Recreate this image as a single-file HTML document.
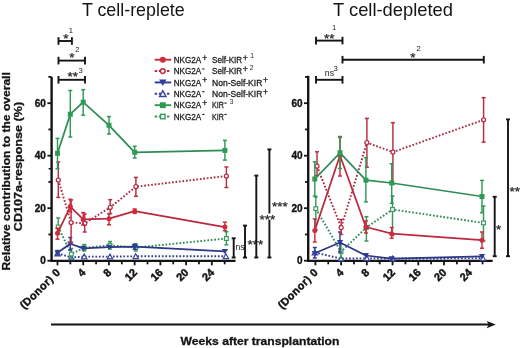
<!DOCTYPE html>
<html><head><meta charset="utf-8"><style>
html,body{margin:0;padding:0;background:#fff;}
body{width:520px;height:348px;overflow:hidden;}
svg{display:block;font-family:"Liberation Sans",Arial,sans-serif;}
</style></head><body>
<svg width="520" height="348" viewBox="0 0 520 348">
<rect width="520" height="348" fill="#fff"/>
<text x="81.9" y="16.2" font-size="18.5" font-weight="normal" text-anchor="start" fill="#141414" textLength="102.8" lengthAdjust="spacingAndGlyphs" >T cell-replete</text>
<text x="333" y="16.2" font-size="18.5" font-weight="normal" text-anchor="start" fill="#141414" textLength="120" lengthAdjust="spacingAndGlyphs" >T cell-depleted</text>
<text transform="translate(9.7 270.6) rotate(-90)" font-size="11.2" font-weight="bold" fill="#141414" stroke="#141414" stroke-width="0.3" textLength="198.4" lengthAdjust="spacingAndGlyphs">Relative contribution to the overall</text>
<text transform="translate(21.9 231.2) rotate(-90)" font-size="11.2" font-weight="bold" fill="#141414" stroke="#141414" stroke-width="0.3" textLength="129.3" lengthAdjust="spacingAndGlyphs">CD107a-response (%)</text>
<line x1="51.6" y1="76.8" x2="51.6" y2="261.7" stroke="#141414" stroke-width="2.4" />
<line x1="47.4" y1="260.7" x2="51.6" y2="260.7" stroke="#141414" stroke-width="1.8" />
<line x1="47.4" y1="208.2" x2="51.6" y2="208.2" stroke="#141414" stroke-width="1.8" />
<line x1="47.4" y1="155.7" x2="51.6" y2="155.7" stroke="#141414" stroke-width="1.8" />
<line x1="47.4" y1="103.2" x2="51.6" y2="103.2" stroke="#141414" stroke-width="1.8" />
<line x1="48.4" y1="234.45" x2="51.6" y2="234.45" stroke="#141414" stroke-width="1.8" />
<line x1="48.4" y1="181.95" x2="51.6" y2="181.95" stroke="#141414" stroke-width="1.8" />
<line x1="48.4" y1="129.45" x2="51.6" y2="129.45" stroke="#141414" stroke-width="1.8" />
<line x1="48.4" y1="76.95" x2="51.6" y2="76.95" stroke="#141414" stroke-width="1.8" />
<line x1="48.6" y1="168.7" x2="51.6" y2="168.7" stroke="#141414" stroke-width="1.5" />
<text x="45.9" y="264.3" font-size="10" font-weight="bold" text-anchor="end" fill="#141414" stroke="#141414" stroke-width="0.35">0</text>
<text x="45.9" y="211.8" font-size="10" font-weight="bold" text-anchor="end" fill="#141414" stroke="#141414" stroke-width="0.35">20</text>
<text x="45.9" y="159.3" font-size="10" font-weight="bold" text-anchor="end" fill="#141414" stroke="#141414" stroke-width="0.35">40</text>
<text x="45.9" y="106.8" font-size="10" font-weight="bold" text-anchor="end" fill="#141414" stroke="#141414" stroke-width="0.35">60</text>
<line x1="50.4" y1="260.9" x2="235.5" y2="260.9" stroke="#141414" stroke-width="2.2" />
<line x1="57.5" y1="260.7" x2="57.5" y2="265.3" stroke="#141414" stroke-width="1.8" />
<line x1="70.36" y1="260.7" x2="70.36" y2="264.3" stroke="#141414" stroke-width="1.8" />
<line x1="83.22" y1="260.7" x2="83.22" y2="265.3" stroke="#141414" stroke-width="1.8" />
<line x1="96.08" y1="260.7" x2="96.08" y2="264.3" stroke="#141414" stroke-width="1.8" />
<line x1="108.94" y1="260.7" x2="108.94" y2="265.3" stroke="#141414" stroke-width="1.8" />
<line x1="121.8" y1="260.7" x2="121.8" y2="264.3" stroke="#141414" stroke-width="1.8" />
<line x1="134.66" y1="260.7" x2="134.66" y2="265.3" stroke="#141414" stroke-width="1.8" />
<line x1="147.52" y1="260.7" x2="147.52" y2="264.3" stroke="#141414" stroke-width="1.8" />
<line x1="160.38" y1="260.7" x2="160.38" y2="265.3" stroke="#141414" stroke-width="1.8" />
<line x1="173.24" y1="260.7" x2="173.24" y2="264.3" stroke="#141414" stroke-width="1.8" />
<line x1="186.1" y1="260.7" x2="186.1" y2="265.3" stroke="#141414" stroke-width="1.8" />
<line x1="198.96" y1="260.7" x2="198.96" y2="264.3" stroke="#141414" stroke-width="1.8" />
<line x1="211.82" y1="260.7" x2="211.82" y2="265.3" stroke="#141414" stroke-width="1.8" />
<line x1="224.68" y1="260.7" x2="224.68" y2="264.3" stroke="#141414" stroke-width="1.8" />
<text x="60.7" y="273.2" font-size="10.9" font-weight="bold" text-anchor="end" fill="#141414" stroke="#141414" stroke-width="0.45" textLength="51.5" lengthAdjust="spacing" transform="rotate(-45 60.7 273.2)">(Donor) 0</text>
<text x="86.42" y="273.2" font-size="10.9" font-weight="bold" text-anchor="end" fill="#141414" stroke="#141414" stroke-width="0.45" transform="rotate(-45 86.42 273.2)">4</text>
<text x="112.14" y="273.2" font-size="10.9" font-weight="bold" text-anchor="end" fill="#141414" stroke="#141414" stroke-width="0.45" transform="rotate(-45 112.14 273.2)">8</text>
<text x="137.86" y="273.2" font-size="10.9" font-weight="bold" text-anchor="end" fill="#141414" stroke="#141414" stroke-width="0.45" transform="rotate(-45 137.86 273.2)">12</text>
<text x="163.58" y="273.2" font-size="10.9" font-weight="bold" text-anchor="end" fill="#141414" stroke="#141414" stroke-width="0.45" transform="rotate(-45 163.58 273.2)">16</text>
<text x="189.3" y="273.2" font-size="10.9" font-weight="bold" text-anchor="end" fill="#141414" stroke="#141414" stroke-width="0.45" transform="rotate(-45 189.3 273.2)">20</text>
<text x="215.02" y="273.2" font-size="10.9" font-weight="bold" text-anchor="end" fill="#141414" stroke="#141414" stroke-width="0.45" transform="rotate(-45 215.02 273.2)">24</text>
<line x1="308.2" y1="75.8" x2="308.2" y2="261.7" stroke="#141414" stroke-width="2.4" />
<line x1="304" y1="260.7" x2="308.2" y2="260.7" stroke="#141414" stroke-width="1.8" />
<line x1="304" y1="208.2" x2="308.2" y2="208.2" stroke="#141414" stroke-width="1.8" />
<line x1="304" y1="155.7" x2="308.2" y2="155.7" stroke="#141414" stroke-width="1.8" />
<line x1="304" y1="103.2" x2="308.2" y2="103.2" stroke="#141414" stroke-width="1.8" />
<line x1="305" y1="234.45" x2="308.2" y2="234.45" stroke="#141414" stroke-width="1.8" />
<line x1="305" y1="181.95" x2="308.2" y2="181.95" stroke="#141414" stroke-width="1.8" />
<line x1="305" y1="129.45" x2="308.2" y2="129.45" stroke="#141414" stroke-width="1.8" />
<line x1="305" y1="76.95" x2="308.2" y2="76.95" stroke="#141414" stroke-width="1.8" />
<text x="302.6" y="264.3" font-size="10" font-weight="bold" text-anchor="end" fill="#141414" stroke="#141414" stroke-width="0.35">0</text>
<text x="302.6" y="211.8" font-size="10" font-weight="bold" text-anchor="end" fill="#141414" stroke="#141414" stroke-width="0.35">20</text>
<text x="302.6" y="159.3" font-size="10" font-weight="bold" text-anchor="end" fill="#141414" stroke="#141414" stroke-width="0.35">40</text>
<text x="302.6" y="106.8" font-size="10" font-weight="bold" text-anchor="end" fill="#141414" stroke="#141414" stroke-width="0.35">60</text>
<line x1="307" y1="260.9" x2="492.7" y2="260.9" stroke="#141414" stroke-width="2.2" />
<line x1="315.4" y1="260.7" x2="315.4" y2="265.3" stroke="#141414" stroke-width="1.8" />
<line x1="328.26" y1="260.7" x2="328.26" y2="264.3" stroke="#141414" stroke-width="1.8" />
<line x1="341.12" y1="260.7" x2="341.12" y2="265.3" stroke="#141414" stroke-width="1.8" />
<line x1="353.98" y1="260.7" x2="353.98" y2="264.3" stroke="#141414" stroke-width="1.8" />
<line x1="366.84" y1="260.7" x2="366.84" y2="265.3" stroke="#141414" stroke-width="1.8" />
<line x1="379.7" y1="260.7" x2="379.7" y2="264.3" stroke="#141414" stroke-width="1.8" />
<line x1="392.56" y1="260.7" x2="392.56" y2="265.3" stroke="#141414" stroke-width="1.8" />
<line x1="405.42" y1="260.7" x2="405.42" y2="264.3" stroke="#141414" stroke-width="1.8" />
<line x1="418.28" y1="260.7" x2="418.28" y2="265.3" stroke="#141414" stroke-width="1.8" />
<line x1="431.14" y1="260.7" x2="431.14" y2="264.3" stroke="#141414" stroke-width="1.8" />
<line x1="444" y1="260.7" x2="444" y2="265.3" stroke="#141414" stroke-width="1.8" />
<line x1="456.86" y1="260.7" x2="456.86" y2="264.3" stroke="#141414" stroke-width="1.8" />
<line x1="469.72" y1="260.7" x2="469.72" y2="265.3" stroke="#141414" stroke-width="1.8" />
<line x1="482.58" y1="260.7" x2="482.58" y2="264.3" stroke="#141414" stroke-width="1.8" />
<text x="318.6" y="273.2" font-size="10.9" font-weight="bold" text-anchor="end" fill="#141414" stroke="#141414" stroke-width="0.45" textLength="51.5" lengthAdjust="spacing" transform="rotate(-45 318.6 273.2)">(Donor) 0</text>
<text x="344.32" y="273.2" font-size="10.9" font-weight="bold" text-anchor="end" fill="#141414" stroke="#141414" stroke-width="0.45" transform="rotate(-45 344.32 273.2)">4</text>
<text x="370.04" y="273.2" font-size="10.9" font-weight="bold" text-anchor="end" fill="#141414" stroke="#141414" stroke-width="0.45" transform="rotate(-45 370.04 273.2)">8</text>
<text x="395.76" y="273.2" font-size="10.9" font-weight="bold" text-anchor="end" fill="#141414" stroke="#141414" stroke-width="0.45" transform="rotate(-45 395.76 273.2)">12</text>
<text x="421.48" y="273.2" font-size="10.9" font-weight="bold" text-anchor="end" fill="#141414" stroke="#141414" stroke-width="0.45" transform="rotate(-45 421.48 273.2)">16</text>
<text x="447.2" y="273.2" font-size="10.9" font-weight="bold" text-anchor="end" fill="#141414" stroke="#141414" stroke-width="0.45" transform="rotate(-45 447.2 273.2)">20</text>
<text x="472.92" y="273.2" font-size="10.9" font-weight="bold" text-anchor="end" fill="#141414" stroke="#141414" stroke-width="0.45" transform="rotate(-45 472.92 273.2)">24</text>
<path d="M57.5 253.5 L71.3 257.5 L84.2 256.6 L110 256.6 L135.7 256.3 L225.9 256.3" fill="none" stroke="#313d90" stroke-width="1.9" stroke-dasharray="1.7 1.8"/>
<path d="M54.8 255.8H60.2L57.5 250.9Z" fill="#fff" stroke="#36429c" stroke-width="1.15" stroke-linejoin="miter"/>
<path d="M68.6 259.8H74L71.3 254.9Z" fill="#fff" stroke="#36429c" stroke-width="1.15" stroke-linejoin="miter"/>
<path d="M81.5 258.9H86.9L84.2 254Z" fill="#fff" stroke="#36429c" stroke-width="1.15" stroke-linejoin="miter"/>
<path d="M107.3 258.9H112.7L110 254Z" fill="#fff" stroke="#36429c" stroke-width="1.15" stroke-linejoin="miter"/>
<path d="M133 258.6H138.4L135.7 253.7Z" fill="#fff" stroke="#36429c" stroke-width="1.15" stroke-linejoin="miter"/>
<path d="M223.2 258.6H228.6L225.9 253.7Z" fill="#fff" stroke="#36429c" stroke-width="1.15" stroke-linejoin="miter"/>
<line x1="58.2" y1="218" x2="58.2" y2="234" stroke="#37985a" stroke-width="1.45" />
<line x1="56.2" y1="218" x2="60.2" y2="218" stroke="#37985a" stroke-width="1.5" />
<line x1="56.2" y1="234" x2="60.2" y2="234" stroke="#37985a" stroke-width="1.5" />
<line x1="71.3" y1="248.5" x2="71.3" y2="259" stroke="#37985a" stroke-width="1.45" />
<line x1="69.3" y1="248.5" x2="73.3" y2="248.5" stroke="#37985a" stroke-width="1.5" />
<line x1="69.3" y1="259" x2="73.3" y2="259" stroke="#37985a" stroke-width="1.5" />
<line x1="84.2" y1="244.5" x2="84.2" y2="251" stroke="#37985a" stroke-width="1.45" />
<line x1="82.2" y1="244.5" x2="86.2" y2="244.5" stroke="#37985a" stroke-width="1.5" />
<line x1="82.2" y1="251" x2="86.2" y2="251" stroke="#37985a" stroke-width="1.5" />
<line x1="110" y1="241.5" x2="110" y2="249" stroke="#37985a" stroke-width="1.45" />
<line x1="108" y1="241.5" x2="112" y2="241.5" stroke="#37985a" stroke-width="1.5" />
<line x1="108" y1="249" x2="112" y2="249" stroke="#37985a" stroke-width="1.5" />
<line x1="135.7" y1="244" x2="135.7" y2="251" stroke="#37985a" stroke-width="1.45" />
<line x1="133.7" y1="244" x2="137.7" y2="244" stroke="#37985a" stroke-width="1.5" />
<line x1="133.7" y1="251" x2="137.7" y2="251" stroke="#37985a" stroke-width="1.5" />
<line x1="226.4" y1="231.7" x2="226.4" y2="244.8" stroke="#37985a" stroke-width="1.45" />
<line x1="224.4" y1="231.7" x2="228.4" y2="231.7" stroke="#37985a" stroke-width="1.5" />
<line x1="224.4" y1="244.8" x2="228.4" y2="244.8" stroke="#37985a" stroke-width="1.5" />
<path d="M58.2 227 L71.3 254 L84.2 247.8 L110 245.3 L135.7 247.6 L226.4 238.5" fill="none" stroke="#2f8a55" stroke-width="1.9" stroke-dasharray="1.7 1.8"/>
<rect x="56.3" y="225.1" width="3.8" height="3.8" fill="#fff" stroke="#37985a" stroke-width="1.15"/>
<rect x="69.4" y="252.1" width="3.8" height="3.8" fill="#fff" stroke="#37985a" stroke-width="1.15"/>
<rect x="82.3" y="245.9" width="3.8" height="3.8" fill="#fff" stroke="#37985a" stroke-width="1.15"/>
<rect x="108.1" y="243.4" width="3.8" height="3.8" fill="#fff" stroke="#37985a" stroke-width="1.15"/>
<rect x="133.8" y="245.7" width="3.8" height="3.8" fill="#fff" stroke="#37985a" stroke-width="1.15"/>
<rect x="224.5" y="236.6" width="3.8" height="3.8" fill="#fff" stroke="#37985a" stroke-width="1.15"/>
<line x1="57.5" y1="250.5" x2="57.5" y2="255" stroke="#303c96" stroke-width="1.45" />
<line x1="55.5" y1="250.5" x2="59.5" y2="250.5" stroke="#303c96" stroke-width="1.5" />
<line x1="55.5" y1="255" x2="59.5" y2="255" stroke="#303c96" stroke-width="1.5" />
<line x1="70.3" y1="237.5" x2="70.3" y2="250" stroke="#303c96" stroke-width="1.45" />
<line x1="68.3" y1="237.5" x2="72.3" y2="237.5" stroke="#303c96" stroke-width="1.5" />
<line x1="68.3" y1="250" x2="72.3" y2="250" stroke="#303c96" stroke-width="1.5" />
<line x1="134.7" y1="244.2" x2="134.7" y2="249.2" stroke="#303c96" stroke-width="1.45" />
<line x1="132.7" y1="244.2" x2="136.7" y2="244.2" stroke="#303c96" stroke-width="1.5" />
<line x1="132.7" y1="249.2" x2="136.7" y2="249.2" stroke="#303c96" stroke-width="1.5" />
<path d="M57.5 252.8 L70.3 243.8 L83.2 248.4 L109 247.1 L134.7 246.7 L224.9 251.3" fill="none" stroke="#2c3788" stroke-width="1.75" stroke-linejoin="round"/>
<path d="M54.4 250.4H60.6L57.5 255.8Z" fill="#303c96"/>
<path d="M67.2 241.4H73.4L70.3 246.8Z" fill="#303c96"/>
<path d="M80.1 246H86.3L83.2 251.4Z" fill="#303c96"/>
<path d="M105.9 244.7H112.1L109 250.1Z" fill="#303c96"/>
<path d="M131.6 244.3H137.8L134.7 249.7Z" fill="#303c96"/>
<path d="M221.8 248.9H228L224.9 254.3Z" fill="#303c96"/>
<line x1="58.3" y1="162" x2="58.3" y2="197.4" stroke="#b82c44" stroke-width="1.45" />
<line x1="56.3" y1="162" x2="60.3" y2="162" stroke="#b82c44" stroke-width="1.5" />
<line x1="56.3" y1="197.4" x2="60.3" y2="197.4" stroke="#b82c44" stroke-width="1.5" />
<line x1="71.1" y1="200" x2="71.1" y2="243" stroke="#b82c44" stroke-width="1.45" />
<line x1="69.1" y1="200" x2="73.1" y2="200" stroke="#b82c44" stroke-width="1.5" />
<line x1="69.1" y1="243" x2="73.1" y2="243" stroke="#b82c44" stroke-width="1.5" />
<line x1="84.7" y1="214" x2="84.7" y2="232" stroke="#b82c44" stroke-width="1.45" />
<line x1="82.7" y1="214" x2="86.7" y2="214" stroke="#b82c44" stroke-width="1.5" />
<line x1="82.7" y1="232" x2="86.7" y2="232" stroke="#b82c44" stroke-width="1.5" />
<line x1="110.2" y1="199.7" x2="110.2" y2="213.5" stroke="#b82c44" stroke-width="1.45" />
<line x1="108.2" y1="199.7" x2="112.2" y2="199.7" stroke="#b82c44" stroke-width="1.5" />
<line x1="108.2" y1="213.5" x2="112.2" y2="213.5" stroke="#b82c44" stroke-width="1.5" />
<line x1="135.9" y1="177.4" x2="135.9" y2="196.3" stroke="#b82c44" stroke-width="1.45" />
<line x1="133.9" y1="177.4" x2="137.9" y2="177.4" stroke="#b82c44" stroke-width="1.5" />
<line x1="133.9" y1="196.3" x2="137.9" y2="196.3" stroke="#b82c44" stroke-width="1.5" />
<line x1="226.4" y1="167" x2="226.4" y2="187.5" stroke="#b82c44" stroke-width="1.45" />
<line x1="224.4" y1="167" x2="228.4" y2="167" stroke="#b82c44" stroke-width="1.5" />
<line x1="224.4" y1="187.5" x2="228.4" y2="187.5" stroke="#b82c44" stroke-width="1.5" />
<path d="M58.3 180 L71.1 222.5 L84.7 223.4 L110.2 207.4 L135.9 186.7 L226.4 176" fill="none" stroke="#a8283f" stroke-width="1.9" stroke-dasharray="1.7 1.8"/>
<circle cx="58.3" cy="180" r="2.0" fill="#fff" stroke="#b82c44" stroke-width="1.25"/>
<circle cx="71.1" cy="222.5" r="2.0" fill="#fff" stroke="#b82c44" stroke-width="1.25"/>
<circle cx="84.7" cy="223.4" r="2.0" fill="#fff" stroke="#b82c44" stroke-width="1.25"/>
<circle cx="110.2" cy="207.4" r="2.0" fill="#fff" stroke="#b82c44" stroke-width="1.25"/>
<circle cx="135.9" cy="186.7" r="2.0" fill="#fff" stroke="#b82c44" stroke-width="1.25"/>
<circle cx="226.4" cy="176" r="2.0" fill="#fff" stroke="#b82c44" stroke-width="1.25"/>
<line x1="57.5" y1="228.2" x2="57.5" y2="239.2" stroke="#cc2c3e" stroke-width="1.45" />
<line x1="55.5" y1="228.2" x2="59.5" y2="228.2" stroke="#cc2c3e" stroke-width="1.5" />
<line x1="55.5" y1="239.2" x2="59.5" y2="239.2" stroke="#cc2c3e" stroke-width="1.5" />
<line x1="70.3" y1="199.3" x2="70.3" y2="211.8" stroke="#cc2c3e" stroke-width="1.45" />
<line x1="68.3" y1="199.3" x2="72.3" y2="199.3" stroke="#cc2c3e" stroke-width="1.5" />
<line x1="68.3" y1="211.8" x2="72.3" y2="211.8" stroke="#cc2c3e" stroke-width="1.5" />
<line x1="83.2" y1="212.6" x2="83.2" y2="225" stroke="#cc2c3e" stroke-width="1.45" />
<line x1="81.2" y1="212.6" x2="85.2" y2="212.6" stroke="#cc2c3e" stroke-width="1.5" />
<line x1="81.2" y1="225" x2="85.2" y2="225" stroke="#cc2c3e" stroke-width="1.5" />
<line x1="109" y1="214" x2="109" y2="224.8" stroke="#cc2c3e" stroke-width="1.45" />
<line x1="107" y1="214" x2="111" y2="214" stroke="#cc2c3e" stroke-width="1.5" />
<line x1="107" y1="224.8" x2="111" y2="224.8" stroke="#cc2c3e" stroke-width="1.5" />
<line x1="134.7" y1="209" x2="134.7" y2="213.4" stroke="#cc2c3e" stroke-width="1.45" />
<line x1="132.7" y1="209" x2="136.7" y2="209" stroke="#cc2c3e" stroke-width="1.5" />
<line x1="132.7" y1="213.4" x2="136.7" y2="213.4" stroke="#cc2c3e" stroke-width="1.5" />
<line x1="224.9" y1="222.2" x2="224.9" y2="230.7" stroke="#cc2c3e" stroke-width="1.45" />
<line x1="222.9" y1="222.2" x2="226.9" y2="222.2" stroke="#cc2c3e" stroke-width="1.5" />
<line x1="222.9" y1="230.7" x2="226.9" y2="230.7" stroke="#cc2c3e" stroke-width="1.5" />
<path d="M57.5 233.3 L70.3 206.6 L83.2 219.4 L109 218.7 L134.7 211.2 L224.9 227.1" fill="none" stroke="#bb2840" stroke-width="1.75" stroke-linejoin="round"/>
<circle cx="57.5" cy="233.3" r="2.5" fill="#cc2c3e"/>
<circle cx="70.3" cy="206.6" r="2.5" fill="#cc2c3e"/>
<circle cx="83.2" cy="219.4" r="2.5" fill="#cc2c3e"/>
<circle cx="109" cy="218.7" r="2.5" fill="#cc2c3e"/>
<circle cx="134.7" cy="211.2" r="2.5" fill="#cc2c3e"/>
<circle cx="224.9" cy="227.1" r="2.5" fill="#cc2c3e"/>
<line x1="57.5" y1="138.4" x2="57.5" y2="168.8" stroke="#2e9a56" stroke-width="1.45" />
<line x1="55.5" y1="138.4" x2="59.5" y2="138.4" stroke="#2e9a56" stroke-width="1.5" />
<line x1="55.5" y1="168.8" x2="59.5" y2="168.8" stroke="#2e9a56" stroke-width="1.5" />
<line x1="70.3" y1="90.5" x2="70.3" y2="137" stroke="#2e9a56" stroke-width="1.45" />
<line x1="68.3" y1="90.5" x2="72.3" y2="90.5" stroke="#2e9a56" stroke-width="1.5" />
<line x1="68.3" y1="137" x2="72.3" y2="137" stroke="#2e9a56" stroke-width="1.5" />
<line x1="83.2" y1="89.7" x2="83.2" y2="115.2" stroke="#2e9a56" stroke-width="1.45" />
<line x1="81.2" y1="89.7" x2="85.2" y2="89.7" stroke="#2e9a56" stroke-width="1.5" />
<line x1="81.2" y1="115.2" x2="85.2" y2="115.2" stroke="#2e9a56" stroke-width="1.5" />
<line x1="109" y1="116.6" x2="109" y2="134" stroke="#2e9a56" stroke-width="1.45" />
<line x1="107" y1="116.6" x2="111" y2="116.6" stroke="#2e9a56" stroke-width="1.5" />
<line x1="107" y1="134" x2="111" y2="134" stroke="#2e9a56" stroke-width="1.5" />
<line x1="134.7" y1="146.3" x2="134.7" y2="158" stroke="#2e9a56" stroke-width="1.45" />
<line x1="132.7" y1="146.3" x2="136.7" y2="146.3" stroke="#2e9a56" stroke-width="1.5" />
<line x1="132.7" y1="158" x2="136.7" y2="158" stroke="#2e9a56" stroke-width="1.5" />
<line x1="224.9" y1="140.4" x2="224.9" y2="160.1" stroke="#2e9a56" stroke-width="1.45" />
<line x1="222.9" y1="140.4" x2="226.9" y2="140.4" stroke="#2e9a56" stroke-width="1.5" />
<line x1="222.9" y1="160.1" x2="226.9" y2="160.1" stroke="#2e9a56" stroke-width="1.5" />
<path d="M57.5 153.3 L70.3 114.2 L83.2 102.2 L109 125.3 L134.7 152.3 L224.9 150.4" fill="none" stroke="#2f8c55" stroke-width="1.75" stroke-linejoin="round"/>
<rect x="55" y="150.8" width="5" height="5" fill="#2e9a56"/>
<rect x="67.8" y="111.7" width="5" height="5" fill="#2e9a56"/>
<rect x="80.7" y="99.7" width="5" height="5" fill="#2e9a56"/>
<rect x="106.5" y="122.8" width="5" height="5" fill="#2e9a56"/>
<rect x="132.2" y="149.8" width="5" height="5" fill="#2e9a56"/>
<rect x="222.4" y="147.9" width="5" height="5" fill="#2e9a56"/>
<path d="M314.8 252.5 L341 258.6 L366.9 258.3 L392.7 258.6 L483 258.3" fill="none" stroke="#313d90" stroke-width="1.9" stroke-dasharray="1.7 1.8"/>
<path d="M312.1 254.8H317.5L314.8 249.9Z" fill="#fff" stroke="#36429c" stroke-width="1.15" stroke-linejoin="miter"/>
<path d="M338.3 260.9H343.7L341 256Z" fill="#fff" stroke="#36429c" stroke-width="1.15" stroke-linejoin="miter"/>
<path d="M364.2 260.6H369.6L366.9 255.7Z" fill="#fff" stroke="#36429c" stroke-width="1.15" stroke-linejoin="miter"/>
<path d="M390 260.9H395.4L392.7 256Z" fill="#fff" stroke="#36429c" stroke-width="1.15" stroke-linejoin="miter"/>
<path d="M480.3 260.6H485.7L483 255.7Z" fill="#fff" stroke="#36429c" stroke-width="1.15" stroke-linejoin="miter"/>
<line x1="315.8" y1="197" x2="315.8" y2="229.8" stroke="#37985a" stroke-width="1.45" />
<line x1="313.8" y1="197" x2="317.8" y2="197" stroke="#37985a" stroke-width="1.5" />
<line x1="313.8" y1="229.8" x2="317.8" y2="229.8" stroke="#37985a" stroke-width="1.5" />
<line x1="341" y1="244" x2="341" y2="258" stroke="#37985a" stroke-width="1.45" />
<line x1="339" y1="244" x2="343" y2="244" stroke="#37985a" stroke-width="1.5" />
<line x1="339" y1="258" x2="343" y2="258" stroke="#37985a" stroke-width="1.5" />
<line x1="366.4" y1="216.7" x2="366.4" y2="241" stroke="#37985a" stroke-width="1.45" />
<line x1="364.4" y1="216.7" x2="368.4" y2="216.7" stroke="#37985a" stroke-width="1.5" />
<line x1="364.4" y1="241" x2="368.4" y2="241" stroke="#37985a" stroke-width="1.5" />
<line x1="392.5" y1="196" x2="392.5" y2="235.6" stroke="#37985a" stroke-width="1.45" />
<line x1="390.5" y1="196" x2="394.5" y2="196" stroke="#37985a" stroke-width="1.5" />
<line x1="390.5" y1="235.6" x2="394.5" y2="235.6" stroke="#37985a" stroke-width="1.5" />
<line x1="483.5" y1="206" x2="483.5" y2="241" stroke="#37985a" stroke-width="1.45" />
<line x1="481.5" y1="206" x2="485.5" y2="206" stroke="#37985a" stroke-width="1.5" />
<line x1="481.5" y1="241" x2="485.5" y2="241" stroke="#37985a" stroke-width="1.5" />
<path d="M315.8 208.7 L341 251.7 L366.4 227.5 L392.5 209.5 L483.5 222.9" fill="none" stroke="#2f8a55" stroke-width="1.9" stroke-dasharray="1.7 1.8"/>
<rect x="313.9" y="206.8" width="3.8" height="3.8" fill="#fff" stroke="#37985a" stroke-width="1.15"/>
<rect x="339.1" y="249.8" width="3.8" height="3.8" fill="#fff" stroke="#37985a" stroke-width="1.15"/>
<rect x="364.5" y="225.6" width="3.8" height="3.8" fill="#fff" stroke="#37985a" stroke-width="1.15"/>
<rect x="390.6" y="207.6" width="3.8" height="3.8" fill="#fff" stroke="#37985a" stroke-width="1.15"/>
<rect x="481.6" y="221" width="3.8" height="3.8" fill="#fff" stroke="#37985a" stroke-width="1.15"/>
<line x1="314.8" y1="247.5" x2="314.8" y2="258" stroke="#303c96" stroke-width="1.45" />
<line x1="312.8" y1="247.5" x2="316.8" y2="247.5" stroke="#303c96" stroke-width="1.5" />
<line x1="312.8" y1="258" x2="316.8" y2="258" stroke="#303c96" stroke-width="1.5" />
<line x1="340" y1="232" x2="340" y2="252" stroke="#303c96" stroke-width="1.45" />
<line x1="338" y1="232" x2="342" y2="232" stroke="#303c96" stroke-width="1.5" />
<line x1="338" y1="252" x2="342" y2="252" stroke="#303c96" stroke-width="1.5" />
<path d="M314.8 253.3 L340 242.5 L365.9 255.5 L391.7 258.6 L482 256.3" fill="none" stroke="#2c3788" stroke-width="1.75" stroke-linejoin="round"/>
<path d="M311.7 250.9H317.9L314.8 256.3Z" fill="#303c96"/>
<path d="M336.9 240.1H343.1L340 245.5Z" fill="#303c96"/>
<path d="M362.8 253.1H369L365.9 258.5Z" fill="#303c96"/>
<path d="M388.6 256.2H394.8L391.7 261.6Z" fill="#303c96"/>
<path d="M478.9 253.9H485.1L482 259.3Z" fill="#303c96"/>
<line x1="317" y1="151.8" x2="317" y2="175.5" stroke="#b82c44" stroke-width="1.45" />
<line x1="315" y1="151.8" x2="319" y2="151.8" stroke="#b82c44" stroke-width="1.5" />
<line x1="315" y1="175.5" x2="319" y2="175.5" stroke="#b82c44" stroke-width="1.5" />
<line x1="341.2" y1="219.5" x2="341.2" y2="234.4" stroke="#b82c44" stroke-width="1.45" />
<line x1="339.2" y1="219.5" x2="343.2" y2="219.5" stroke="#b82c44" stroke-width="1.5" />
<line x1="339.2" y1="234.4" x2="343.2" y2="234.4" stroke="#b82c44" stroke-width="1.5" />
<line x1="366.9" y1="118.4" x2="366.9" y2="167.2" stroke="#b82c44" stroke-width="1.45" />
<line x1="364.9" y1="118.4" x2="368.9" y2="118.4" stroke="#b82c44" stroke-width="1.5" />
<line x1="364.9" y1="167.2" x2="368.9" y2="167.2" stroke="#b82c44" stroke-width="1.5" />
<line x1="392.9" y1="122.7" x2="392.9" y2="184" stroke="#b82c44" stroke-width="1.45" />
<line x1="390.9" y1="122.7" x2="394.9" y2="122.7" stroke="#b82c44" stroke-width="1.5" />
<line x1="390.9" y1="184" x2="394.9" y2="184" stroke="#b82c44" stroke-width="1.5" />
<line x1="483.6" y1="97.7" x2="483.6" y2="142.1" stroke="#b82c44" stroke-width="1.45" />
<line x1="481.6" y1="97.7" x2="485.6" y2="97.7" stroke="#b82c44" stroke-width="1.5" />
<line x1="481.6" y1="142.1" x2="485.6" y2="142.1" stroke="#b82c44" stroke-width="1.5" />
<path d="M317 166.2 L341.2 227.5 L366.9 142.6 L392.9 152.1 L483.6 119.8" fill="none" stroke="#a8283f" stroke-width="1.9" stroke-dasharray="1.7 1.8"/>
<circle cx="317" cy="166.2" r="2.0" fill="#fff" stroke="#b82c44" stroke-width="1.25"/>
<circle cx="341.2" cy="227.5" r="2.0" fill="#fff" stroke="#b82c44" stroke-width="1.25"/>
<circle cx="366.9" cy="142.6" r="2.0" fill="#fff" stroke="#b82c44" stroke-width="1.25"/>
<circle cx="392.9" cy="152.1" r="2.0" fill="#fff" stroke="#b82c44" stroke-width="1.25"/>
<circle cx="483.6" cy="119.8" r="2.0" fill="#fff" stroke="#b82c44" stroke-width="1.25"/>
<line x1="314.8" y1="219" x2="314.8" y2="242" stroke="#cc2c3e" stroke-width="1.45" />
<line x1="312.8" y1="219" x2="316.8" y2="219" stroke="#cc2c3e" stroke-width="1.5" />
<line x1="312.8" y1="242" x2="316.8" y2="242" stroke="#cc2c3e" stroke-width="1.5" />
<line x1="340" y1="137.5" x2="340" y2="176" stroke="#cc2c3e" stroke-width="1.45" />
<line x1="338" y1="137.5" x2="342" y2="137.5" stroke="#cc2c3e" stroke-width="1.5" />
<line x1="338" y1="176" x2="342" y2="176" stroke="#cc2c3e" stroke-width="1.5" />
<line x1="365.9" y1="221" x2="365.9" y2="233" stroke="#cc2c3e" stroke-width="1.45" />
<line x1="363.9" y1="221" x2="367.9" y2="221" stroke="#cc2c3e" stroke-width="1.5" />
<line x1="363.9" y1="233" x2="367.9" y2="233" stroke="#cc2c3e" stroke-width="1.5" />
<line x1="391.7" y1="227.5" x2="391.7" y2="238.3" stroke="#cc2c3e" stroke-width="1.45" />
<line x1="389.7" y1="227.5" x2="393.7" y2="227.5" stroke="#cc2c3e" stroke-width="1.5" />
<line x1="389.7" y1="238.3" x2="393.7" y2="238.3" stroke="#cc2c3e" stroke-width="1.5" />
<line x1="482" y1="232" x2="482" y2="248.2" stroke="#cc2c3e" stroke-width="1.45" />
<line x1="480" y1="232" x2="484" y2="232" stroke="#cc2c3e" stroke-width="1.5" />
<line x1="480" y1="248.2" x2="484" y2="248.2" stroke="#cc2c3e" stroke-width="1.5" />
<path d="M314.8 230.5 L340 155.5 L365.9 227 L391.7 233.7 L482 240.2" fill="none" stroke="#bb2840" stroke-width="1.75" stroke-linejoin="round"/>
<circle cx="314.8" cy="230.5" r="2.5" fill="#cc2c3e"/>
<circle cx="340" cy="155.5" r="2.5" fill="#cc2c3e"/>
<circle cx="365.9" cy="227" r="2.5" fill="#cc2c3e"/>
<circle cx="391.7" cy="233.7" r="2.5" fill="#cc2c3e"/>
<circle cx="482" cy="240.2" r="2.5" fill="#cc2c3e"/>
<line x1="314.8" y1="161.8" x2="314.8" y2="196" stroke="#2e9a56" stroke-width="1.45" />
<line x1="312.8" y1="161.8" x2="316.8" y2="161.8" stroke="#2e9a56" stroke-width="1.5" />
<line x1="312.8" y1="196" x2="316.8" y2="196" stroke="#2e9a56" stroke-width="1.5" />
<line x1="340" y1="136.5" x2="340" y2="168.5" stroke="#2e9a56" stroke-width="1.45" />
<line x1="338" y1="136.5" x2="342" y2="136.5" stroke="#2e9a56" stroke-width="1.5" />
<line x1="338" y1="168.5" x2="342" y2="168.5" stroke="#2e9a56" stroke-width="1.5" />
<line x1="365.9" y1="157.7" x2="365.9" y2="201.9" stroke="#2e9a56" stroke-width="1.45" />
<line x1="363.9" y1="157.7" x2="367.9" y2="157.7" stroke="#2e9a56" stroke-width="1.5" />
<line x1="363.9" y1="201.9" x2="367.9" y2="201.9" stroke="#2e9a56" stroke-width="1.5" />
<line x1="391.7" y1="163.7" x2="391.7" y2="203.3" stroke="#2e9a56" stroke-width="1.45" />
<line x1="389.7" y1="163.7" x2="393.7" y2="163.7" stroke="#2e9a56" stroke-width="1.5" />
<line x1="389.7" y1="203.3" x2="393.7" y2="203.3" stroke="#2e9a56" stroke-width="1.5" />
<line x1="482" y1="180.4" x2="482" y2="212.7" stroke="#2e9a56" stroke-width="1.45" />
<line x1="480" y1="180.4" x2="484" y2="180.4" stroke="#2e9a56" stroke-width="1.5" />
<line x1="480" y1="212.7" x2="484" y2="212.7" stroke="#2e9a56" stroke-width="1.5" />
<path d="M314.8 179 L340 152.8 L365.9 180.2 L391.7 183 L482 196.5" fill="none" stroke="#2f8c55" stroke-width="1.75" stroke-linejoin="round"/>
<rect x="312.3" y="176.5" width="5" height="5" fill="#2e9a56"/>
<rect x="337.5" y="150.3" width="5" height="5" fill="#2e9a56"/>
<rect x="363.4" y="177.7" width="5" height="5" fill="#2e9a56"/>
<rect x="389.2" y="180.5" width="5" height="5" fill="#2e9a56"/>
<rect x="479.5" y="194" width="5" height="5" fill="#2e9a56"/>
<line x1="58.5" y1="41" x2="71.9" y2="41" stroke="#141414" stroke-width="1.9" />
<line x1="58.5" y1="37.2" x2="58.5" y2="44.8" stroke="#141414" stroke-width="1.9" />
<line x1="71.9" y1="37.2" x2="71.9" y2="44.8" stroke="#141414" stroke-width="1.9" />
<line x1="58.5" y1="60.6" x2="85" y2="60.6" stroke="#141414" stroke-width="1.9" />
<line x1="58.5" y1="56.8" x2="58.5" y2="64.4" stroke="#141414" stroke-width="1.9" />
<line x1="85" y1="56.8" x2="85" y2="64.4" stroke="#141414" stroke-width="1.9" />
<line x1="58.5" y1="79.8" x2="85" y2="79.8" stroke="#141414" stroke-width="1.9" />
<line x1="58.5" y1="76" x2="58.5" y2="83.6" stroke="#141414" stroke-width="1.9" />
<line x1="85" y1="76" x2="85" y2="83.6" stroke="#141414" stroke-width="1.9" />
<text x="65.9" y="42.53" font-size="13.5" font-weight="normal" text-anchor="middle" fill="#222" stroke="#222" stroke-width="0.22">*</text>
<text x="70.8" y="32.62" font-size="7.6" font-weight="normal" text-anchor="middle" fill="#222" >1</text>
<text x="71.9" y="61.73" font-size="13.5" font-weight="normal" text-anchor="middle" fill="#222" stroke="#222" stroke-width="0.22">*</text>
<text x="77.3" y="52.02" font-size="7.6" font-weight="normal" text-anchor="middle" fill="#222" >2</text>
<text x="72.75" y="80.68" font-size="13.5" font-weight="normal" text-anchor="middle" fill="#222" stroke="#222" stroke-width="0.22">**</text>
<text x="80.6" y="72.62" font-size="7.6" font-weight="normal" text-anchor="middle" fill="#222" >3</text>
<line x1="316" y1="40.6" x2="342.5" y2="40.6" stroke="#141414" stroke-width="1.9" />
<line x1="316" y1="36.8" x2="316" y2="44.4" stroke="#141414" stroke-width="1.9" />
<line x1="342.5" y1="36.8" x2="342.5" y2="44.4" stroke="#141414" stroke-width="1.9" />
<line x1="342.5" y1="59.7" x2="483.8" y2="59.7" stroke="#141414" stroke-width="1.9" />
<line x1="342.5" y1="55.9" x2="342.5" y2="63.5" stroke="#141414" stroke-width="1.9" />
<line x1="483.8" y1="55.9" x2="483.8" y2="63.5" stroke="#141414" stroke-width="1.9" />
<line x1="316" y1="79.8" x2="342.5" y2="79.8" stroke="#141414" stroke-width="1.9" />
<line x1="316" y1="76" x2="316" y2="83.6" stroke="#141414" stroke-width="1.9" />
<line x1="342.5" y1="76" x2="342.5" y2="83.6" stroke="#141414" stroke-width="1.9" />
<text x="329.2" y="42.53" font-size="13.5" font-weight="normal" text-anchor="middle" fill="#222" stroke="#222" stroke-width="0.22">**</text>
<text x="334" y="30.22" font-size="7.6" font-weight="normal" text-anchor="middle" fill="#222" >1</text>
<text x="413" y="61.93" font-size="13.5" font-weight="normal" text-anchor="middle" fill="#222" stroke="#222" stroke-width="0.22">*</text>
<text x="418.6" y="50.62" font-size="7.6" font-weight="normal" text-anchor="middle" fill="#222" >2</text>
<text x="329.4" y="76.3" font-size="8.8" font-weight="normal" text-anchor="middle" fill="#222" >ns</text>
<text x="335.6" y="71.12" font-size="7.6" font-weight="normal" text-anchor="middle" fill="#222" >3</text>
<line x1="233.7" y1="238.3" x2="233.7" y2="257.5" stroke="#141414" stroke-width="1.9" />
<line x1="231.7" y1="238.3" x2="235.7" y2="238.3" stroke="#141414" stroke-width="1.9" />
<line x1="231.7" y1="257.5" x2="235.7" y2="257.5" stroke="#141414" stroke-width="1.9" />
<line x1="245" y1="225.6" x2="245" y2="257.5" stroke="#141414" stroke-width="1.9" />
<line x1="243" y1="225.6" x2="247" y2="225.6" stroke="#141414" stroke-width="1.9" />
<line x1="243" y1="257.5" x2="247" y2="257.5" stroke="#141414" stroke-width="1.9" />
<line x1="256.3" y1="175.6" x2="256.3" y2="257.5" stroke="#141414" stroke-width="1.9" />
<line x1="254.3" y1="175.6" x2="258.3" y2="175.6" stroke="#141414" stroke-width="1.9" />
<line x1="254.3" y1="257.5" x2="258.3" y2="257.5" stroke="#141414" stroke-width="1.9" />
<line x1="269.4" y1="149.4" x2="269.4" y2="257.5" stroke="#141414" stroke-width="1.9" />
<line x1="267.4" y1="149.4" x2="271.4" y2="149.4" stroke="#141414" stroke-width="1.9" />
<line x1="267.4" y1="257.5" x2="271.4" y2="257.5" stroke="#141414" stroke-width="1.9" />
<text x="235.6" y="249.9" font-size="8.6" font-weight="normal" text-anchor="start" fill="#222" >ns</text>
<text x="255.3" y="249.43" font-size="13.5" font-weight="normal" text-anchor="middle" fill="#222" stroke="#222" stroke-width="0.22">***</text>
<rect x="259.52" y="213.4" width="15.75" height="6.4" fill="#fff"/>
<text x="267.4" y="223.53" font-size="13.5" font-weight="normal" text-anchor="middle" fill="#222" stroke="#222" stroke-width="0.22">***</text>
<text x="280" y="211.43" font-size="13.5" font-weight="normal" text-anchor="middle" fill="#222" stroke="#222" stroke-width="0.22">***</text>
<line x1="494.7" y1="196.8" x2="494.7" y2="256.2" stroke="#141414" stroke-width="1.9" />
<line x1="492.7" y1="196.8" x2="496.7" y2="196.8" stroke="#141414" stroke-width="1.9" />
<line x1="492.7" y1="256.2" x2="496.7" y2="256.2" stroke="#141414" stroke-width="1.9" />
<line x1="508" y1="119.4" x2="508" y2="256.2" stroke="#141414" stroke-width="1.9" />
<line x1="506" y1="119.4" x2="510" y2="119.4" stroke="#141414" stroke-width="1.9" />
<line x1="506" y1="256.2" x2="510" y2="256.2" stroke="#141414" stroke-width="1.9" />
<text x="498.6" y="234.23" font-size="13.5" font-weight="normal" text-anchor="middle" fill="#222" stroke="#222" stroke-width="0.22">*</text>
<text x="514.8" y="195.53" font-size="13.5" font-weight="normal" text-anchor="middle" fill="#222" stroke="#222" stroke-width="0.22">**</text>
<line x1="154.7" y1="59.7" x2="171.2" y2="59.7" stroke="#cc2c3e" stroke-width="1.9" />
<g transform="translate(162.8 59.7) scale(1.18) translate(-162.8 -59.7)">
<circle cx="162.8" cy="59.7" r="2.5" fill="#cc2c3e"/>
</g>
<text x="173.7" y="62.8" font-size="9.4" font-weight="normal" text-anchor="start" fill="#1a1a1a" textLength="27.5" lengthAdjust="spacingAndGlyphs" stroke="#1a1a1a" stroke-width="0.3">NKG2A</text>
<text x="202.18" y="60.66" font-size="8.6" font-weight="normal" text-anchor="start" fill="#1a1a1a" stroke="#1a1a1a" stroke-width="0.3">+</text>
<text x="212.1" y="62.8" font-size="9.4" font-weight="normal" text-anchor="start" fill="#1a1a1a" textLength="30" lengthAdjust="spacingAndGlyphs" stroke="#1a1a1a" stroke-width="0.3">Self-KIR</text>
<text x="242.68" y="60.66" font-size="8.6" font-weight="normal" text-anchor="start" fill="#1a1a1a" stroke="#1a1a1a" stroke-width="0.3">+</text>
<text x="252.2" y="58.48" font-size="6.6" font-weight="normal" text-anchor="middle" fill="#222" >1</text>
<line x1="154.7" y1="71.07" x2="170" y2="71.07" stroke="#b82c44" stroke-width="1.9" stroke-dasharray="2.4 1.7"/>
<g transform="translate(162.8 71.07) scale(1.18) translate(-162.8 -71.07)">
<circle cx="162.8" cy="71.07" r="2.0" fill="#fff" stroke="#b82c44" stroke-width="1.25"/>
</g>
<text x="173.7" y="74.17" font-size="9.4" font-weight="normal" text-anchor="start" fill="#1a1a1a" textLength="27.5" lengthAdjust="spacingAndGlyphs" stroke="#1a1a1a" stroke-width="0.3">NKG2A</text>
<line x1="202.2" y1="68.97" x2="204.5" y2="68.97" stroke="#1a1a1a" stroke-width="1.1"/>
<text x="212.1" y="74.17" font-size="9.4" font-weight="normal" text-anchor="start" fill="#1a1a1a" textLength="30" lengthAdjust="spacingAndGlyphs" stroke="#1a1a1a" stroke-width="0.3">Self-KIR</text>
<text x="242.68" y="72.03" font-size="8.6" font-weight="normal" text-anchor="start" fill="#1a1a1a" stroke="#1a1a1a" stroke-width="0.3">+</text>
<text x="251.6" y="69.85" font-size="6.6" font-weight="normal" text-anchor="middle" fill="#222" >2</text>
<line x1="154.7" y1="82.44" x2="171.2" y2="82.44" stroke="#303c96" stroke-width="1.9" />
<g transform="translate(162.8 82.44) scale(1.18) translate(-162.8 -82.44)">
<path d="M159.7 80.04H165.9L162.8 85.44Z" fill="#303c96"/>
</g>
<text x="173.7" y="85.54" font-size="9.4" font-weight="normal" text-anchor="start" fill="#1a1a1a" textLength="27.5" lengthAdjust="spacingAndGlyphs" stroke="#1a1a1a" stroke-width="0.3">NKG2A</text>
<text x="202.18" y="83.4" font-size="8.6" font-weight="normal" text-anchor="start" fill="#1a1a1a" stroke="#1a1a1a" stroke-width="0.3">+</text>
<text x="212.1" y="85.54" font-size="9.4" font-weight="normal" text-anchor="start" fill="#1a1a1a" textLength="50.2" lengthAdjust="spacingAndGlyphs" stroke="#1a1a1a" stroke-width="0.3">Non-Self-KIR</text>
<text x="262.88" y="83.4" font-size="8.6" font-weight="normal" text-anchor="start" fill="#1a1a1a" stroke="#1a1a1a" stroke-width="0.3">+</text>
<line x1="154.7" y1="93.81" x2="170" y2="93.81" stroke="#36429c" stroke-width="1.9" stroke-dasharray="2.4 1.7"/>
<g transform="translate(162.8 93.81) scale(1.18) translate(-162.8 -93.81)">
<path d="M160.1 96.11H165.5L162.8 91.21Z" fill="#fff" stroke="#36429c" stroke-width="1.15" stroke-linejoin="miter"/>
</g>
<text x="173.7" y="96.91" font-size="9.4" font-weight="normal" text-anchor="start" fill="#1a1a1a" textLength="27.5" lengthAdjust="spacingAndGlyphs" stroke="#1a1a1a" stroke-width="0.3">NKG2A</text>
<line x1="202.2" y1="91.71" x2="204.5" y2="91.71" stroke="#1a1a1a" stroke-width="1.1"/>
<text x="212.1" y="96.91" font-size="9.4" font-weight="normal" text-anchor="start" fill="#1a1a1a" textLength="50.2" lengthAdjust="spacingAndGlyphs" stroke="#1a1a1a" stroke-width="0.3">Non-Self-KIR</text>
<text x="262.88" y="94.77" font-size="8.6" font-weight="normal" text-anchor="start" fill="#1a1a1a" stroke="#1a1a1a" stroke-width="0.3">+</text>
<line x1="154.7" y1="105.18" x2="171.2" y2="105.18" stroke="#2e9a56" stroke-width="1.9" />
<g transform="translate(162.8 105.18) scale(1.18) translate(-162.8 -105.18)">
<rect x="160.3" y="102.68" width="5" height="5" fill="#2e9a56"/>
</g>
<text x="173.7" y="108.28" font-size="9.4" font-weight="normal" text-anchor="start" fill="#1a1a1a" textLength="27.5" lengthAdjust="spacingAndGlyphs" stroke="#1a1a1a" stroke-width="0.3">NKG2A</text>
<text x="202.18" y="106.14" font-size="8.6" font-weight="normal" text-anchor="start" fill="#1a1a1a" stroke="#1a1a1a" stroke-width="0.3">+</text>
<text x="212.1" y="108.28" font-size="9.4" font-weight="normal" text-anchor="start" fill="#1a1a1a" textLength="11.9" lengthAdjust="spacingAndGlyphs" stroke="#1a1a1a" stroke-width="0.3">KIR</text>
<line x1="224.4" y1="103.08" x2="226.7" y2="103.08" stroke="#1a1a1a" stroke-width="1.1"/>
<text x="231.6" y="103.96" font-size="6.6" font-weight="normal" text-anchor="middle" fill="#222" >3</text>
<line x1="154.7" y1="116.55" x2="170" y2="116.55" stroke="#37985a" stroke-width="1.9" stroke-dasharray="2.4 1.7"/>
<g transform="translate(162.8 116.55) scale(1.18) translate(-162.8 -116.55)">
<rect x="160.9" y="114.65" width="3.8" height="3.8" fill="#fff" stroke="#37985a" stroke-width="1.15"/>
</g>
<text x="173.7" y="119.65" font-size="9.4" font-weight="normal" text-anchor="start" fill="#1a1a1a" textLength="27.5" lengthAdjust="spacingAndGlyphs" stroke="#1a1a1a" stroke-width="0.3">NKG2A</text>
<line x1="202.2" y1="114.45" x2="204.5" y2="114.45" stroke="#1a1a1a" stroke-width="1.1"/>
<text x="212.1" y="119.65" font-size="9.4" font-weight="normal" text-anchor="start" fill="#1a1a1a" textLength="11.9" lengthAdjust="spacingAndGlyphs" stroke="#1a1a1a" stroke-width="0.3">KIR</text>
<line x1="224.4" y1="114.45" x2="226.7" y2="114.45" stroke="#1a1a1a" stroke-width="1.1"/>
<line x1="51" y1="324.6" x2="489" y2="324.6" stroke="#141414" stroke-width="2" />
<path d="M495.8 324.6 L486.6 320.9 L488.8 324.6 L486.6 328.3 Z" fill="#141414"/>
<text x="180.6" y="344.6" font-size="11.4" font-weight="bold" text-anchor="start" fill="#141414" textLength="158.8" lengthAdjust="spacingAndGlyphs" stroke="#141414" stroke-width="0.3">Weeks after transplantation</text>
</svg>
</body></html>
